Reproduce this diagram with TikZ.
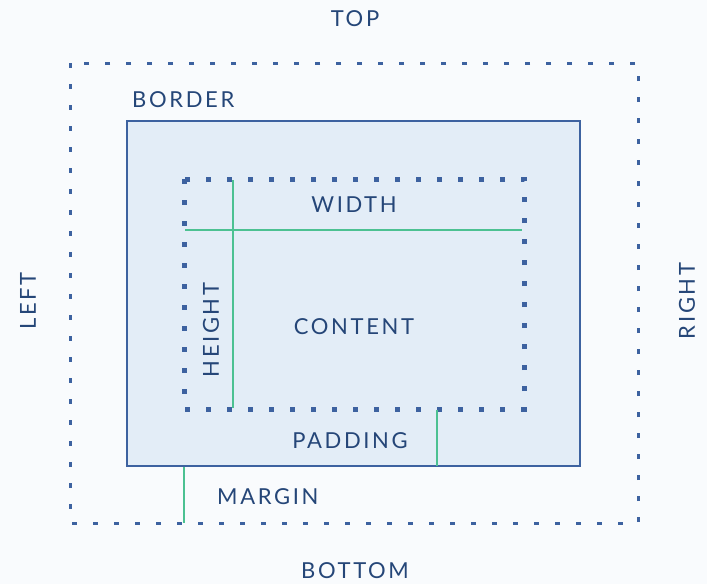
\documentclass[tikz,border=0pt]{standalone}
\usepackage{fontspec}
\setmainfont{Lato}[LetterSpace=12]
\usepackage{tikz}
\definecolor{BG}{RGB}{249, 251, 253}
\definecolor{BB}{RGB}{61, 98, 160}
\definecolor{FB}{RGB}{227, 237, 247}
\definecolor{TX}{RGB}{37, 70, 120}
\definecolor{GG}{RGB}{76, 193, 146}
\tikzset{
    marginbox/.style={draw=BB, line width=3pt, dash pattern=on 5pt off 16pt},
    borderbox/.style={draw=BB, line width=2pt, fill=FB},
    contentbox/.style={draw=BB, line width=5pt, dash pattern=on 5pt off 16pt},
    measure/.style={draw=GG, line width=2.8pt},
    boxlabel/.style={text=TX, font=\fontsize{22}{26}\selectfont, inner sep=0pt},
}

\begin{document}
\begin{tikzpicture}[x=1pt, y=-1pt]

\fill[BG] (0,0) rectangle (707,584);
\useasboundingbox (0,0) rectangle (707,584);

% boxes
\draw[marginbox] (70,63) rectangle (638,523);
\draw[borderbox] (127,121) rectangle (580,466);
\draw[contentbox] (184,179) rectangle (524,409);

% measure lines
\coordinate (wl) at (185,230);
\coordinate (wr) at (522,230);
\coordinate (ht) at (233,180);
\coordinate (hb) at (233,408);
\coordinate (pt) at (437,410);
\coordinate (pb) at (437,466);
\coordinate (mt) at (184,467);
\coordinate (mb) at (184,523);
\draw[measure] (wl) -- (wr);
\draw[measure] (ht) -- (hb);
\draw[measure] (pt) -- (pb);
\draw[measure] (mt) -- (mb);

% labels
\node[boxlabel] (top) at (355,19) {TOP};
\node[boxlabel] (bottom) at (355,571) {BOTTOM};
\node[boxlabel, rotate=90] (left) at (28,301) {LEFT};
\node[boxlabel, rotate=90] (right) at (687,301) {RIGHT};
\node[boxlabel, anchor=west] (border) at (132,100) {BORDER};
\node[boxlabel] (width) at (354,205) {WIDTH};
\node[boxlabel] (content) at (354,327) {CONTENT};
\node[boxlabel, rotate=90] (height) at (211,330) {HEIGHT};
\node[boxlabel] (padding) at (350,441) {PADDING};
\node[boxlabel, anchor=west] (margin) at (217,497) {MARGIN};

\end{tikzpicture}
\end{document}
